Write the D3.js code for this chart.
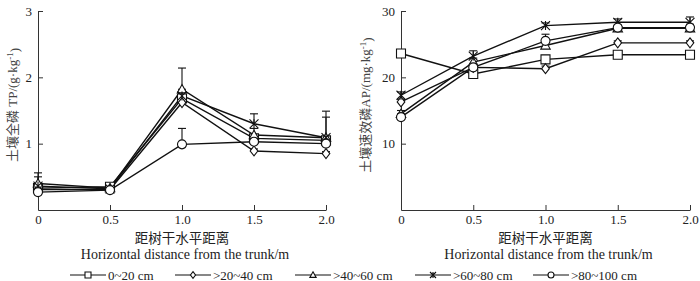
<!DOCTYPE html>
<html lang="zh">
<head>
<meta charset="UTF-8">
<title>TP and AP by distance from the trunk</title>
<script src="https://d3js.org/d3.v7.min.js"></script>
<style>
    body { margin: 0; background: #fff; }
    text { font-family: "Liberation Serif", "Noto Sans CJK SC", serif; }
    .axis path, .axis line { stroke: #333; stroke-width: 1; }
    .axis text { font-size: 13px; fill: #222; font-family: "Liberation Serif", serif; }
    .series { fill: none; stroke: #111; stroke-width: 1.4; }
    .marker { fill: #fff; stroke: #111; stroke-width: 1.1; }
    .err { stroke: #111; stroke-width: 1.1; }
</style>
</head>
<body>
<svg id="chart" width="700" height="281"></svg>
<script>
// distances from the trunk (m)
var distances = [0, 0.5, 1.0, 1.5, 2.0];
var depths = ["0~20 cm", ">20~40 cm", ">40~60 cm", ">60~80 cm", ">80~100 cm"];
var shapes = ["square", "diamond", "triangle", "asterisk", "circle"];

// soil total phosphorus TP (g/kg), one array per depth
var tp0_20   = [0.33, 0.35, 1.68, 1.08, 1.05];
var tp20_40  = [0.31, 0.31, 1.62, 0.89, 0.85];
var tp40_60  = [0.40, 0.33, 1.82, 1.13, 1.09];
var tp60_80  = [0.36, 0.32, 1.72, 1.30, 1.09];
var tp80_100 = [0.27, 0.30, 0.99, 1.03, 1.00];
// upper error bars
var tpErr0_20   = [0.04, 0.03, 0.06, 0.05, 0.05];
var tpErr20_40  = [0.03, 0.03, 0.05, 0.03, 0.03];
var tpErr40_60  = [0.16, 0.03, 0.32, 0.10, 0.31];
var tpErr60_80  = [0.14, 0.04, 0.10, 0.15, 0.40];
var tpErr80_100 = [0.05, 0.03, 0.24, 0.05, 0.06];

// soil available phosphorus AP (mg/kg)
var ap0_20   = [23.6, 20.5, 22.7, 23.4, 23.4];
var ap20_40  = [16.3, 21.5, 21.3, 25.2, 25.2];
var ap40_60  = [14.5, 22.3, 24.8, 27.4, 27.4];
var ap60_80  = [17.3, 23.2, 27.8, 28.3, 28.3];
var ap80_100 = [14.0, 21.5, 25.5, 27.5, 27.5];
var apErr0_20   = [0.3, 0.4, 0.5, 0.4, 0.4];
var apErr20_40  = [0.4, 0.4, 0.4, 0.3, 0.3];
var apErr40_60  = [0.5, 0.6, 0.6, 0.4, 0.5];
var apErr60_80  = [0.5, 0.8, 0.4, 0.5, 0.8];
var apErr80_100 = [0.5, 0.5, 1.0, 0.4, 0.5];

var xTicks = [0, 0.5, 1.0, 1.5, 2.0];
var xTickLabels = ["0", "0.5", "1.0", "1.5", "2.0"];
var tpTicks = [1, 2, 3];
var apTicks = [10, 20, 30];

var svg = d3.select("#chart");
var serif = "'Liberation Serif', 'Noto Sans CJK SC', serif";

function markerPath(shape, s) {
    var h = s / 2;
    if (shape === "square") return "M" + (-h) + "," + (-h) + "h" + s + "v" + s + "h" + (-s) + "Z";
    if (shape === "diamond") return "M0," + (-h * 1.1) + "L" + (h * 0.85) + ",0L0," + (h * 1.1) + "L" + (-h * 0.85) + ",0Z";
    if (shape === "triangle") return "M0," + (-h * 1.05) + "L" + (h * 1.05) + "," + (h * 0.8) + "L" + (-h * 1.05) + "," + (h * 0.8) + "Z";
    if (shape === "asterisk") return "M" + (-h) + "," + (-h) + "L" + h + "," + h + "M" + h + "," + (-h) + "L" + (-h) + "," + h + "M0," + (-h) + "V" + h;
    // circle
    var r = h;
    return "M" + r + ",0A" + r + "," + r + " 0 1,1 " + (-r) + ",0A" + r + "," + r + " 0 1,1 " + r + ",0Z";
}

function drawPanel(opts) {
    var x = d3.scaleLinear().domain([0, 2]).range(opts.xRange);
    var y = d3.scaleLinear().domain(opts.yDomain).range([210, 11]);
    var g = svg.append("g");

    g.append("g")
        .attr("class", "axis")
        .attr("transform", "translate(0,210)")
        .call(d3.axisBottom(x).tickValues(xTicks).tickFormat((d, i) => xTickLabels[i]).tickSizeInner(-5).tickSizeOuter(0).tickPadding(5));

    g.append("g")
        .attr("class", "axis")
        .attr("transform", "translate(" + opts.xRange[0] + ",0)")
        .call(d3.axisLeft(y).tickValues(opts.yTicks).tickFormat(d3.format("d")).tickSizeInner(-5).tickSizeOuter(0).tickPadding(6));

    // y label
    var lbl = g.append("text")
        .attr("transform", "translate(" + opts.yLabelX + ",105) rotate(-90)")
        .attr("text-anchor", "middle")
        .style("font-family", serif)
        .style("font-size", "13px")
        .style("fill", "#444");
    lbl.append("tspan").text(opts.yLabel);
    lbl.append("tspan").attr("dy", "-0.45em").style("font-size", "9px").text("-1");
    lbl.append("tspan").attr("dy", "0.45em").text(")");

    var cx = (opts.xRange[0] + opts.xRange[1]) / 2;
    g.append("text").attr("x", cx).attr("y", 243).attr("text-anchor", "middle")
        .style("font-family", serif).style("font-size", "13.5px").style("fill", "#222").text("距树干水平距离");
    g.append("text").attr("x", cx + 3).attr("y", 259).attr("text-anchor", "middle")
        .style("font-family", serif).style("font-size", "14px").style("fill", "#222").text("Horizontal distance from the trunk/m");

    var line = d3.line().x((d, i) => x(distances[i])).y(d => y(d));

    opts.series.forEach(function (vals, k) {
        var errs = opts.errors[k];
        g.append("path").datum(vals).attr("class", "series").attr("d", line);
        vals.forEach(function (v, i) {
            var px = x(distances[i]), top = y(v + errs[i]);
            g.append("line").attr("class", "err").attr("x1", px).attr("x2", px).attr("y1", y(v)).attr("y2", top);
            g.append("line").attr("class", "err").attr("x1", px - 4).attr("x2", px + 4).attr("y1", top).attr("y2", top);
        });
    });
    opts.series.forEach(function (vals, k) {
        g.selectAll(null).data(vals).enter().append("path")
            .attr("class", "marker")
            .attr("transform", (d, i) => "translate(" + x(distances[i]) + "," + y(d) + ")")
            .attr("d", markerPath(shapes[k], 9));
    });
}

drawPanel({
    xRange: [38, 326], yDomain: [0, 3], yTicks: tpTicks, yLabelX: 17,
    yLabel: "土壤全磷 TP/(g·kg",
    series: [tp0_20, tp20_40, tp40_60, tp60_80, tp80_100],
    errors: [tpErr0_20, tpErr20_40, tpErr40_60, tpErr60_80, tpErr80_100]
});
drawPanel({
    xRange: [401, 690], yDomain: [0, 30], yTicks: apTicks, yLabelX: 370,
    yLabel: "土壤速效磷AP/(mg·kg",
    series: [ap0_20, ap20_40, ap40_60, ap60_80, ap80_100],
    errors: [apErr0_20, apErr20_40, apErr40_60, apErr60_80, apErr80_100]
});

// legend
var legendX = [70, 175, 295, 415, 533];
var legend = svg.append("g").attr("transform", "translate(0,275)");
depths.forEach(function (name, k) {
    var lx = legendX[k];
    legend.append("line").attr("x1", lx).attr("x2", lx + 36).attr("y1", 0).attr("y2", 0)
        .attr("stroke", "#111").attr("stroke-width", 1.2);
    legend.append("path").attr("class", "marker")
        .attr("transform", "translate(" + (lx + 18) + ",0)")
        .attr("d", markerPath(shapes[k], 6));
    legend.append("text").attr("x", lx + 38).attr("y", 4.5)
        .style("font-family", serif)
        .style("font-size", "13px").style("fill", "#222").text(name);
});
</script>
</body>
</html>
